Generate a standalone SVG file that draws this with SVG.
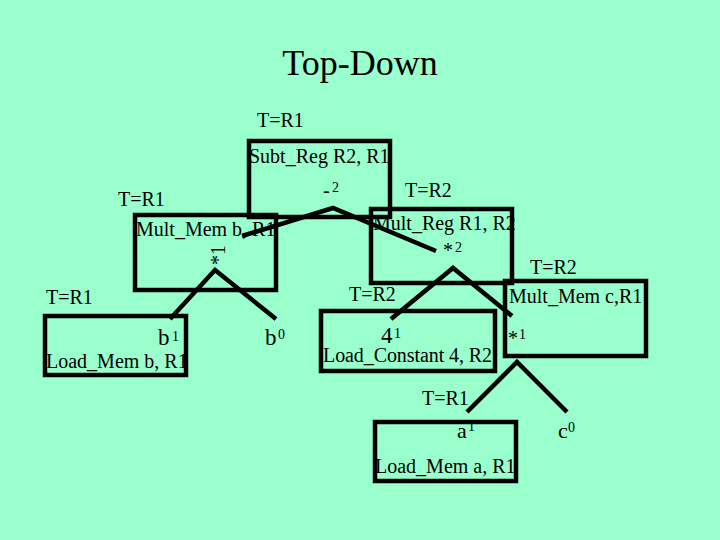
<svg xmlns="http://www.w3.org/2000/svg" width="720" height="540" viewBox="0 0 720 540">
<style>
text{font-family:"Liberation Serif","Times New Roman",serif;fill:#000;font-size:20px}
.box{fill:none;stroke:#000;stroke-width:4.5}
.edge{fill:none;stroke:#000;stroke-width:4.5;stroke-linejoin:miter}
.big{font-size:23px}
.mid{font-size:22px}
.sup{font-size:14px}
.title{font-size:36px}
</style>
<rect width="720" height="540" fill="#99FFCC"/>
<text class="title" x="360" y="75" text-anchor="middle">Top-Down</text>
<g id="subt">
<rect class="box" x="249" y="141" width="141" height="76"/>
<text x="257" y="127">T=R1</text>
<text x="249" y="163">Subt_Reg R2, R1</text>
<text x="323" y="197">-</text><text class="sup" x="332" y="192">2</text>
</g>
<g id="multmemb">
<rect class="box" x="135" y="215" width="141" height="75"/>
<text x="118" y="206">T=R1</text>
<text x="136" y="236">Mult_Mem b, R1</text>
<text transform="translate(225,265) rotate(-90)">*1</text>
</g>
<g id="multreg">
<rect class="box" x="371" y="209" width="141" height="74"/>
<text x="405" y="197">T=R2</text>
<text x="373" y="230">Mult_Reg R1, R2</text>
<text x="443" y="257">*</text><text class="sup" x="455" y="252">2</text>
</g>
<g id="multmemc">
<rect class="box" x="505" y="281" width="141" height="75"/>
<text x="530" y="274">T=R2</text>
<text x="509" y="303">Mult_Mem c,R1</text>
<text x="508" y="345">*</text><text class="sup" x="519" y="339">1</text>
</g>
<g id="loadmemb">
<rect class="box" x="45" y="316" width="141" height="59"/>
<text x="46" y="304">T=R1</text>
<text class="big" x="158" y="345">b</text><text class="sup" x="172" y="341">1</text>
<text x="46" y="368">Load_Mem b, R1</text>
</g>
<g id="b0">
<text class="big" x="265" y="345">b</text><text class="sup" x="278" y="339">0</text>
</g>
<g id="loadconst">
<rect class="box" x="321" y="311" width="174" height="60"/>
<text x="349" y="301">T=R2</text>
<text class="big" x="381" y="343">4</text><text class="sup" x="394" y="338">1</text>
<text x="323" y="362" textLength="169">Load_Constant 4, R2</text>
</g>
<g id="loadmema">
<rect class="box" x="375" y="422" width="141" height="59"/>
<text x="422" y="405">T=R1</text>
<text class="mid" x="457" y="438">a</text><text class="sup" x="468" y="431">1</text>
<text x="375" y="473">Load_Mem a, R1</text>
</g>
<g id="c0">
<text class="mid" x="558" y="438">c</text><text class="sup" x="568" y="432">0</text>
</g>
<g id="connectors">
<polyline class="edge" points="242,236 333,208 436,251"/>
<polyline class="edge" points="170,319 215,270 276,319"/>
<polyline class="edge" points="391,319 453,268 512,316"/>
<polyline class="edge" points="467,412 517,362 567,412"/>
</g>
</svg>
